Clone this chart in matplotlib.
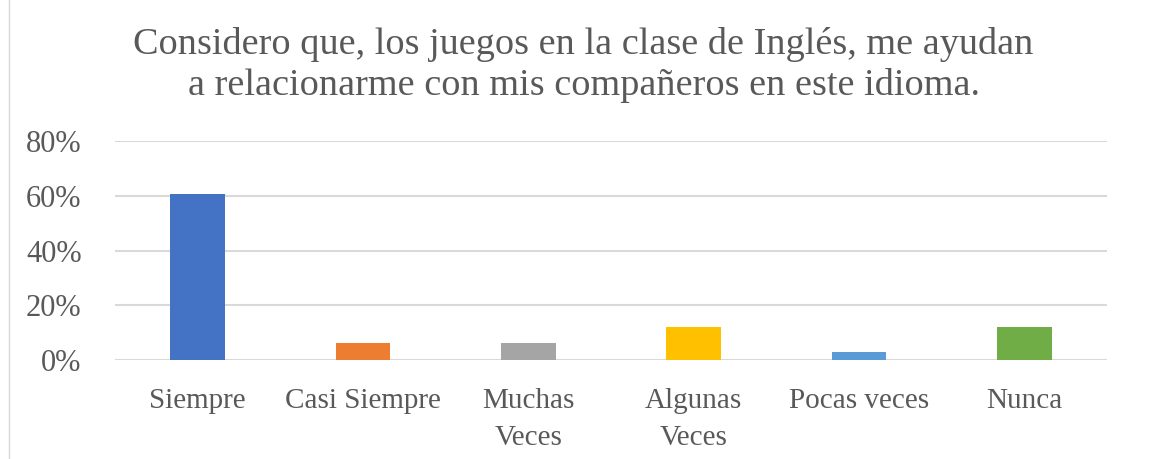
import numpy as np
import matplotlib.pyplot as plt
from matplotlib.ticker import PercentFormatter
from matplotlib.lines import Line2D

# datos (33 respuestas)
categorias = ['Siempre', 'Casi Siempre', 'Muchas\nVeces', 'Algunas\nVeces', 'Pocas veces', 'Nunca']
valores = [60.6, 6.1, 6.1, 12.1, 3.0, 12.1]
colores = ['#4472C4', '#ED7D31', '#A5A5A5', '#FFC000', '#5B9BD5', '#70AD47']
yticks = [0, 20, 40, 60, 80]

titulo = 'Considero que, los juegos en la clase de Inglés, me ayudan\na relacionarme con mis compañeros en este idioma.'

plt.rcParams['font.family'] = ['Liberation Serif', 'DejaVu Serif']
gris = '#595959'

fig = plt.figure(figsize=(11.67, 4.59), dpi=100)
ax = fig.add_axes([115/1167, 1 - 360/459, (1107-115)/1167, (360-141)/459])

x = np.arange(len(categorias))
ax.bar(x, valores, width=0.33, color=colores, zorder=3)

ax.set_xlim(-0.5, len(categorias) - 0.5)
ax.set_ylim(0, 80)
ax.set_yticks(yticks)
ax.yaxis.set_major_formatter(PercentFormatter(decimals=0))
ax.grid(axis='y', color='#D9D9D9', linewidth=1.5, zorder=0)
for s in ['top', 'right', 'left', 'bottom']:
    ax.spines[s].set_visible(False)
ax.tick_params(axis='both', length=0, colors=gris)
ax.tick_params(axis='y', pad=24, labelsize=22)
ax.tick_params(axis='x', pad=20, labelsize=21)
ax.set_xticks(x)
ax.set_xticklabels(categorias, linespacing=1.55)

fig.text(0.5, 1 - 65/459, titulo, ha='center', va='center', fontsize=27.5,
         color=gris, linespacing=1.25)

# borde izquierdo del cuadro
fig.add_artist(Line2D([9/1167, 9/1167], [0, 1], color='#D9D9D9', linewidth=1,
                      transform=fig.transFigure))

fig.savefig('out.png', dpi=100)
